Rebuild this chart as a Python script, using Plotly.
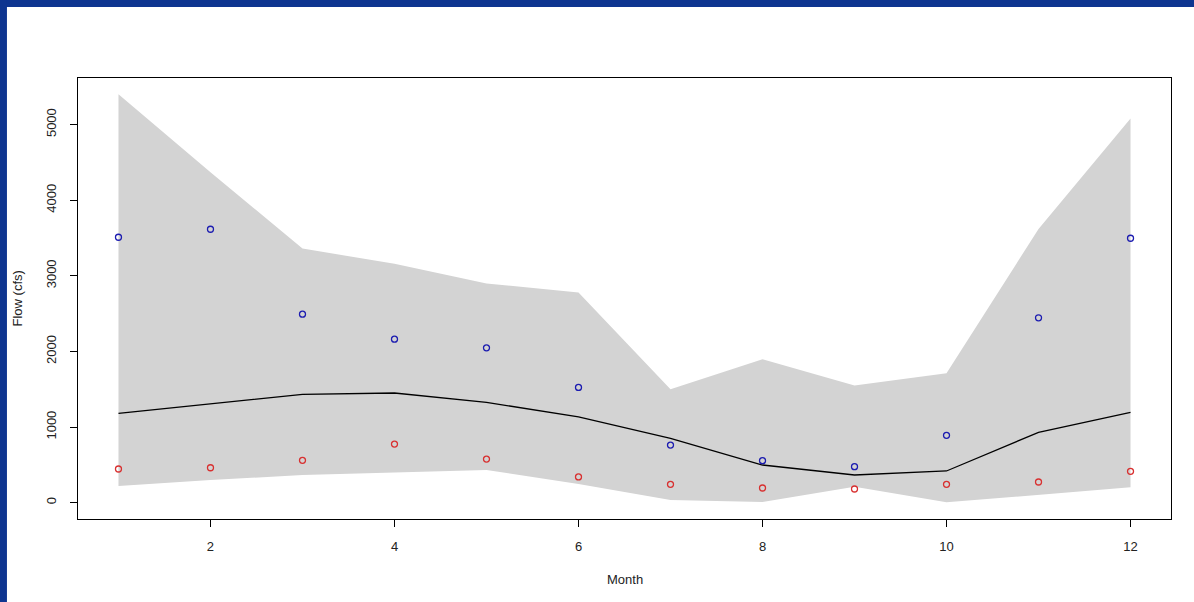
import plotly.graph_objects as go

months = [1, 2, 3, 4, 5, 6, 7, 8, 9, 10, 11, 12]
upper_bound = [5400, 4370, 3360, 3160, 2900, 2780, 1500, 1895, 1550, 1710, 3620, 5080]
lower_bound = [220, 300, 365, 397, 432, 247, 36, 8, 211, 5, 102, 203]
median_flow = [1180, 1304, 1432, 1450, 1326, 1136, 851, 498, 366, 419, 930, 1194]
high_flow = [3510, 3616, 2493, 2162, 2048, 1524, 762, 555, 476, 890, 2445, 3497]
low_flow = [445, 462, 560, 775, 577, 340, 243, 194, 181, 243, 273, 415]

x_ticks = [2, 4, 6, 8, 10, 12]
y_ticks = [0, 1000, 2000, 3000, 4000, 5000]

FONT = "Liberation Sans, Arial, sans-serif"
TXT = "#222"

fig = go.Figure()

fig.add_trace(go.Scatter(
    x=months + months[::-1],
    y=upper_bound + lower_bound[::-1],
    fill="toself", fillcolor="#d3d3d3",
    line=dict(width=0, color="#d3d3d3"),
    mode="lines", hoverinfo="skip", showlegend=False))

fig.add_trace(go.Scatter(
    x=months, y=median_flow, mode="lines",
    line=dict(color="black", width=1.3), showlegend=False))

fig.add_trace(go.Scatter(
    x=months, y=high_flow, mode="markers",
    marker=dict(symbol="circle-open", size=6, color="#1c1cb0", line=dict(width=1.3)),
    showlegend=False))

fig.add_trace(go.Scatter(
    x=months, y=low_flow, mode="markers",
    marker=dict(symbol="circle-open", size=6, color="#d83030", line=dict(width=1.3)),
    showlegend=False))

# plot area in pixels: x 78..1171, y 78..519
fig.update_layout(
    width=1194, height=602,
    margin=dict(l=78, r=23, t=78, b=83),
    paper_bgcolor="white", plot_bgcolor="white",
    font=dict(family=FONT, size=13, color=TXT),
    xaxis=dict(range=[0.56, 12.44], tickvals=x_ticks, ticks="outside", ticklen=7,
               tickcolor="black", showgrid=False, zeroline=False,
               showline=True, linecolor="black", linewidth=1, mirror=True,
               ticklabelstandoff=8,
               tickfont=dict(family=FONT, size=13, color=TXT)),
    yaxis=dict(range=[-216, 5616], tickvals=y_ticks, ticks="outside", ticklen=7,
               tickcolor="black", tickangle=-90, showgrid=False, zeroline=False,
               showline=True, linecolor="black", linewidth=1, mirror=True,
               ticklabelstandoff=9,
               tickfont=dict(family=FONT, size=13, color=TXT)),
    shapes=[
        dict(type="rect", xref="paper", yref="paper", x0=-0.072, x1=1.03, y0=1.1610, y1=1.18,
             fillcolor="#0e3590", line=dict(width=0), layer="above"),
        dict(type="rect", xref="paper", yref="paper", x0=-0.072, x1=-0.0650, y0=-0.19, y1=1.18,
             fillcolor="#0e3590", line=dict(width=0), layer="above"),
    ],
    annotations=[
        dict(text="Month", xref="paper", yref="paper", x=0.5, y=-0.138,
             xanchor="center", yanchor="middle", showarrow=False,
             font=dict(family=FONT, size=13, color=TXT)),
        dict(text="Flow (cfs)", xref="paper", yref="paper", x=-0.0558, y=0.5,
             xanchor="center", yanchor="middle", textangle=-90, showarrow=False,
             font=dict(family=FONT, size=13, color=TXT)),
    ],
)

fig.write_html("out.html", config={"displayModeBar": False},
               post_script="document.body.style.margin='0';")
